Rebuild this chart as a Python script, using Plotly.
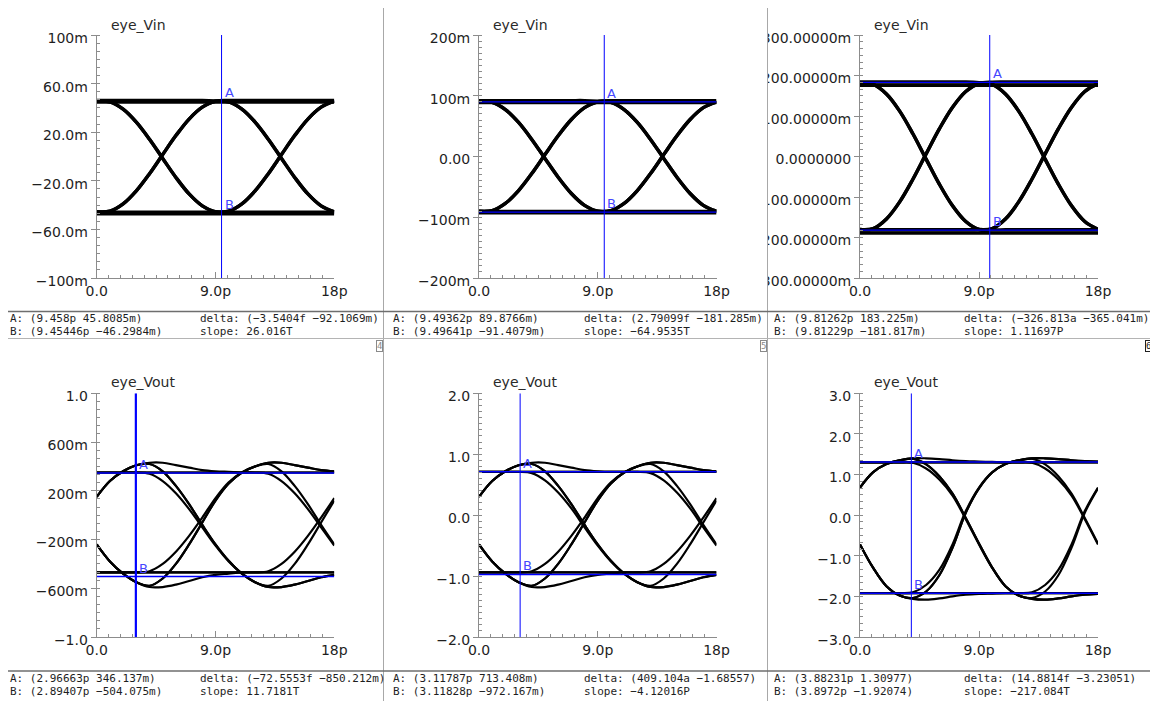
import plotly.graph_objects as go

W, H = 1158, 701
OFF = 8  # the page body keeps an 8 px margin around the figure

# ------------------------------------------------------------------ data
time_ps = [0, 1, 2, 3, 4, 5, 6, 7, 8, 9, 10, 11, 12, 13, 14, 15, 16, 17, 18]
x_tickvals = [0, 9, 18]
x_ticktext = ["0.0", "9.0p", "18p"]

# ---- panel 1 : eye_Vin (mV)
vin1_hhh = [44.8, 44.8, 44.8, 44.8, 44.8, 44.8, 44.8, 44.8, 44.8, 44.8, 44.8, 44.8, 44.8, 44.8, 44.8, 44.8, 44.8, 44.8, 44.8]
vin1_lll = [-47.2, -47.2, -47.2, -47.2, -47.2, -47.2, -47.2, -47.2, -47.2, -47.2, -47.2, -47.2, -47.2, -47.2, -47.2, -47.2, -47.2, -47.2, -47.2]
vin1_hlh = [45.5, 45.0, 39.0, 28.3, 14.2, -1.6, -17.2, -30.8, -40.6, -45.5, -45.0, -39.0, -28.3, -14.2, 1.6, 17.2, 30.8, 40.6, 45.5]
vin1_lhl = [-45.5, -45.0, -39.0, -28.3, -14.2, 1.6, 17.2, 30.8, 40.6, 45.5, 45.0, 39.0, 28.3, 14.2, -1.6, -17.2, -30.8, -40.6, -45.5]
vin1_hhl = [46.2, 46.2, 46.2, 46.2, 46.2, 46.2, 46.2, 46.2, 46.2, 45.8, 45.0, 39.0, 28.3, 14.2, -1.6, -17.2, -30.8, -40.6, -45.5]
vin1_llh = [-45.8, -45.8, -45.8, -45.8, -45.8, -45.8, -45.8, -45.8, -45.8, -45.6, -45.0, -39.0, -28.3, -14.2, 1.6, 17.2, 30.8, 40.6, 45.5]
vin1_hll = [45.5, 45.0, 39.0, 28.3, 14.2, -1.6, -17.2, -30.8, -40.6, -45.5, -45.9, -45.8, -45.8, -45.8, -45.8, -45.8, -45.8, -45.8, -45.8]
vin1_lhh = [-45.5, -45.0, -39.0, -28.3, -14.2, 1.6, 17.2, 30.8, 40.6, 45.5, 46.1, 46.2, 46.2, 46.2, 46.2, 46.2, 46.2, 46.2, 46.2]

# ---- panel 2 : eye_Vin (mV)
vin2_hhh = [89.0, 89.0, 89.0, 89.0, 89.0, 89.0, 89.0, 89.0, 89.0, 89.0, 89.0, 89.0, 89.0, 89.0, 89.0, 89.0, 89.0, 89.0, 89.0]
vin2_lll = [-92.5, -92.5, -92.5, -92.5, -92.5, -92.5, -92.5, -92.5, -92.5, -92.5, -92.5, -92.5, -92.5, -92.5, -92.5, -92.5, -92.5, -92.5, -92.5]
vin2_hlh = [90.1, 89.0, 77.2, 56.1, 28.1, -3.2, -34.1, -60.9, -80.4, -90.1, -89.0, -77.2, -56.1, -28.1, 3.2, 34.1, 60.9, 80.4, 90.1]
vin2_lhl = [-90.1, -89.0, -77.2, -56.1, -28.1, 3.2, 34.1, 60.9, 80.4, 90.1, 89.0, 77.2, 56.1, 28.1, -3.2, -34.1, -60.9, -80.4, -90.1]
vin2_hhl = [92.0, 92.0, 92.0, 92.0, 92.0, 92.0, 92.0, 92.0, 92.0, 91.0, 89.0, 77.2, 56.1, 28.1, -3.2, -34.1, -60.9, -80.4, -90.1]
vin2_llh = [-90.5, -90.5, -90.5, -90.5, -90.5, -90.5, -90.5, -90.5, -90.5, -90.5, -89.0, -77.2, -56.1, -28.1, 3.2, 34.1, 60.9, 80.4, 90.1]
vin2_hll = [90.1, 89.0, 77.2, 56.1, 28.1, -3.2, -34.1, -60.9, -80.4, -90.1, -90.6, -90.5, -90.5, -90.5, -90.5, -90.5, -90.5, -90.5, -90.5]
vin2_lhh = [-90.1, -89.0, -77.2, -56.1, -28.1, 3.2, 34.1, 60.9, 80.4, 90.1, 91.8, 92.0, 92.0, 92.0, 92.0, 92.0, 92.0, 92.0, 92.0]

# ---- panel 3 : eye_Vin (mV)
vin3_hhh = [176.0, 176.0, 176.0, 176.0, 176.0, 176.0, 176.0, 176.0, 176.0, 176.0, 176.0, 176.0, 176.0, 176.0, 176.0, 176.0, 176.0, 176.0, 176.0]
vin3_lll = [-189.0, -189.0, -189.0, -189.0, -189.0, -189.0, -189.0, -189.0, -189.0, -189.0, -189.0, -189.0, -189.0, -189.0, -189.0, -189.0, -189.0, -189.0, -189.0]
vin3_hlh = [180.2, 178.0, 154.3, 112.1, 56.2, -6.4, -68.3, -121.8, -160.7, -180.2, -178.0, -154.3, -112.1, -56.2, 6.4, 68.3, 121.8, 160.7, 180.2]
vin3_lhl = [-180.2, -178.0, -154.3, -112.1, -56.2, 6.4, 68.3, 121.8, 160.7, 180.2, 178.0, 154.3, 112.1, 56.2, -6.4, -68.3, -121.8, -160.7, -180.2]
vin3_hhl = [184.0, 184.0, 184.0, 184.0, 184.0, 184.0, 184.0, 184.0, 184.0, 182.5, 178.0, 154.3, 112.1, 56.2, -6.4, -68.3, -121.8, -160.7, -180.2]
vin3_llh = [-181.0, -181.0, -181.0, -181.0, -181.0, -181.0, -181.0, -181.0, -181.0, -180.5, -178.0, -154.3, -112.1, -56.2, 6.4, 68.3, 121.8, 160.7, 180.2]
vin3_hll = [180.2, 178.0, 154.3, 112.1, 56.2, -6.4, -68.3, -121.8, -160.7, -180.2, -181.2, -181.0, -181.0, -181.0, -181.0, -181.0, -181.0, -181.0, -181.0]
vin3_lhh = [-180.2, -178.0, -154.3, -112.1, -56.2, 6.4, 68.3, 121.8, 160.7, 180.2, 183.6, 184.0, 184.0, 184.0, 184.0, 184.0, 184.0, 184.0, 184.0]

# ---- panel 4 : eye_Vout (V)
vout1_hhhh = [0.35, 0.35, 0.35, 0.35, 0.35, 0.35, 0.35, 0.35, 0.35, 0.35, 0.35, 0.35, 0.35, 0.35, 0.35, 0.35, 0.35, 0.35, 0.35]
vout1_llll = [-0.47, -0.47, -0.47, -0.47, -0.47, -0.47, -0.47, -0.47, -0.47, -0.47, -0.47, -0.47, -0.47, -0.47, -0.47, -0.47, -0.47, -0.47, -0.47]
vout1_lhhh = [0.15, 0.28, 0.36, 0.41, 0.43, 0.43, 0.41, 0.39, 0.37, 0.36, 0.355, 0.35, 0.35, 0.35, 0.35, 0.35, 0.35, 0.35, 0.35]
vout1_hlll = [-0.24, -0.38, -0.48, -0.55, -0.59, -0.59, -0.57, -0.54, -0.51, -0.49, -0.48, -0.47, -0.47, -0.47, -0.47, -0.47, -0.47, -0.47, -0.47]
vout1_hhll = [0.35, 0.35, 0.35, 0.35, 0.34, 0.28, 0.18, 0.05, -0.10, -0.25, -0.38, -0.48, -0.55, -0.59, -0.59, -0.57, -0.54, -0.51, -0.49]
vout1_llhh = [-0.47, -0.47, -0.47, -0.47, -0.46, -0.40, -0.30, -0.17, -0.02, 0.14, 0.27, 0.35, 0.40, 0.43, 0.43, 0.41, 0.39, 0.37, 0.36]
vout1_lhll = [0.15, 0.28, 0.36, 0.41, 0.42, 0.36, 0.24, 0.09, -0.08, -0.24, -0.375, -0.48, -0.55, -0.59, -0.59, -0.57, -0.54, -0.51, -0.49]
vout1_hlhh = [-0.24, -0.38, -0.48, -0.55, -0.58, -0.52, -0.40, -0.24, -0.06, 0.12, 0.26, 0.35, 0.40, 0.43, 0.43, 0.41, 0.39, 0.37, 0.36]
vout1_hhhl = [0.35, 0.35, 0.35, 0.35, 0.35, 0.35, 0.35, 0.35, 0.35, 0.35, 0.35, 0.35, 0.35, 0.34, 0.28, 0.18, 0.05, -0.10, -0.25]
vout1_lllh = [-0.47, -0.47, -0.47, -0.47, -0.47, -0.47, -0.47, -0.47, -0.47, -0.47, -0.47, -0.47, -0.47, -0.46, -0.40, -0.30, -0.17, -0.02, 0.14]
vout1_hlhl = [-0.24, -0.38, -0.48, -0.55, -0.58, -0.52, -0.40, -0.24, -0.06, 0.12, 0.26, 0.35, 0.40, 0.42, 0.36, 0.24, 0.09, -0.08, -0.24]
vout1_lhlh = [0.15, 0.28, 0.36, 0.41, 0.42, 0.36, 0.24, 0.09, -0.08, -0.24, -0.375, -0.48, -0.55, -0.58, -0.52, -0.40, -0.24, -0.06, 0.12]

# ---- panel 5 : eye_Vout (V)
vout2_hhhh = [0.71, 0.71, 0.71, 0.71, 0.71, 0.71, 0.71, 0.71, 0.71, 0.71, 0.71, 0.71, 0.71, 0.71, 0.71, 0.71, 0.71, 0.71, 0.71]
vout2_llll = [-0.94, -0.94, -0.94, -0.94, -0.94, -0.94, -0.94, -0.94, -0.94, -0.94, -0.94, -0.94, -0.94, -0.94, -0.94, -0.94, -0.94, -0.94, -0.94]
vout2_lhhh = [0.30, 0.56, 0.72, 0.82, 0.86, 0.86, 0.82, 0.78, 0.74, 0.72, 0.71, 0.71, 0.71, 0.71, 0.71, 0.71, 0.71, 0.71, 0.71]
vout2_hlll = [-0.48, -0.76, -0.96, -1.10, -1.18, -1.18, -1.14, -1.08, -1.02, -0.98, -0.96, -0.94, -0.94, -0.94, -0.94, -0.94, -0.94, -0.94, -0.94]
vout2_hhll = [0.71, 0.71, 0.71, 0.71, 0.69, 0.57, 0.37, 0.11, -0.20, -0.50, -0.76, -0.96, -1.10, -1.18, -1.18, -1.14, -1.08, -1.02, -0.98]
vout2_llhh = [-0.94, -0.94, -0.94, -0.94, -0.92, -0.80, -0.60, -0.34, -0.04, 0.28, 0.54, 0.70, 0.80, 0.86, 0.86, 0.82, 0.78, 0.74, 0.72]
vout2_lhll = [0.30, 0.56, 0.72, 0.82, 0.84, 0.72, 0.48, 0.18, -0.16, -0.48, -0.75, -0.96, -1.10, -1.18, -1.18, -1.14, -1.08, -1.02, -0.98]
vout2_hlhh = [-0.48, -0.76, -0.96, -1.10, -1.16, -1.04, -0.80, -0.48, -0.12, 0.24, 0.52, 0.70, 0.80, 0.86, 0.86, 0.82, 0.78, 0.74, 0.72]
vout2_hhhl = [0.71, 0.71, 0.71, 0.71, 0.71, 0.71, 0.71, 0.71, 0.71, 0.71, 0.71, 0.71, 0.71, 0.69, 0.57, 0.37, 0.11, -0.20, -0.50]
vout2_lllh = [-0.94, -0.94, -0.94, -0.94, -0.94, -0.94, -0.94, -0.94, -0.94, -0.94, -0.94, -0.94, -0.94, -0.92, -0.80, -0.60, -0.34, -0.04, 0.28]
vout2_hlhl = [-0.48, -0.76, -0.96, -1.10, -1.16, -1.04, -0.80, -0.48, -0.12, 0.24, 0.52, 0.70, 0.80, 0.84, 0.72, 0.48, 0.18, -0.16, -0.48]
vout2_lhlh = [0.30, 0.56, 0.72, 0.82, 0.84, 0.72, 0.48, 0.18, -0.16, -0.48, -0.75, -0.96, -1.10, -1.16, -1.04, -0.80, -0.48, -0.12, 0.24]

# ---- panel 6 : eye_Vout (V)
vout3_hhhh = [1.30, 1.30, 1.30, 1.30, 1.30, 1.30, 1.30, 1.30, 1.30, 1.30, 1.30, 1.30, 1.30, 1.30, 1.30, 1.30, 1.30, 1.30, 1.30]
vout3_llll = [-1.92, -1.92, -1.92, -1.92, -1.92, -1.92, -1.92, -1.92, -1.92, -1.92, -1.92, -1.92, -1.92, -1.92, -1.92, -1.92, -1.92, -1.92, -1.92]
vout3_lhhh = [0.68, 1.06, 1.26, 1.35, 1.40, 1.40, 1.38, 1.35, 1.33, 1.32, 1.31, 1.30, 1.30, 1.30, 1.30, 1.30, 1.30, 1.30, 1.30]
vout3_hlll = [-0.72, -1.30, -1.75, -1.98, -2.06, -2.08, -2.05, -2.00, -1.96, -1.94, -1.93, -1.92, -1.92, -1.92, -1.92, -1.92, -1.92, -1.92, -1.92]
vout3_hhll = [1.30, 1.30, 1.30, 1.30, 1.29, 1.15, 0.88, 0.48, -0.10, -0.72, -1.30, -1.75, -1.98, -2.06, -2.08, -2.05, -2.00, -1.96, -1.94]
vout3_llhh = [-1.92, -1.92, -1.92, -1.92, -1.90, -1.72, -1.35, -0.72, 0.10, 0.68, 1.06, 1.26, 1.35, 1.40, 1.40, 1.38, 1.35, 1.33, 1.32]
vout3_lhll = [0.68, 1.06, 1.26, 1.35, 1.39, 1.25, 0.96, 0.53, -0.07, -0.70, -1.29, -1.75, -1.98, -2.06, -2.08, -2.05, -2.00, -1.96, -1.94]
vout3_hlhh = [-0.72, -1.30, -1.75, -1.98, -2.04, -1.88, -1.48, -0.80, 0.06, 0.66, 1.05, 1.26, 1.35, 1.40, 1.40, 1.38, 1.35, 1.33, 1.32]
vout3_hhhl = [1.30, 1.30, 1.30, 1.30, 1.30, 1.30, 1.30, 1.30, 1.30, 1.30, 1.30, 1.30, 1.30, 1.29, 1.15, 0.88, 0.48, -0.10, -0.72]
vout3_lllh = [-1.92, -1.92, -1.92, -1.92, -1.92, -1.92, -1.92, -1.92, -1.92, -1.92, -1.92, -1.92, -1.92, -1.90, -1.72, -1.35, -0.72, 0.10, 0.68]
vout3_hlhl = [-0.72, -1.30, -1.75, -1.98, -2.04, -1.88, -1.48, -0.80, 0.06, 0.66, 1.05, 1.26, 1.35, 1.39, 1.25, 0.96, 0.53, -0.07, -0.70]
vout3_lhlh = [0.68, 1.06, 1.26, 1.35, 1.39, 1.25, 0.96, 0.53, -0.07, -0.70, -1.29, -1.75, -1.98, -2.04, -1.88, -1.48, -0.80, 0.06, 0.66]

# ---- y tick labels
vin1_ytickvals = [100, 60, 20, -20, -60, -100]
vin1_yticktext = ["100m", "60.0m", "20.0m", "\u221220.0m", "\u221260.0m", "\u2212100m"]
vin2_ytickvals = [200, 100, 0, -100, -200]
vin2_yticktext = ["200m", "100m", "0.00", "\u2212100m", "\u2212200m"]
vin3_ytickvals = [300, 200, 100, 0, -100, -200, -300]
vin3_yticktext = ["300.00000m", "200.00000m", "100.00000m", "0.0000000",
                  "\u2212100.00000m", "\u2212200.00000m", "\u2212300.00000m"]
vout1_ytickvals = [1.0, 0.6, 0.2, -0.2, -0.6, -1.0]
vout1_yticktext = ["1.0", "600m", "200m", "\u2212200m", "\u2212600m", "\u22121.0"]
vout2_ytickvals = [2, 1, 0, -1, -2]
vout2_yticktext = ["2.0", "1.0", "0.0", "\u22121.0", "\u22122.0"]
vout3_ytickvals = [3, 2, 1, 0, -1, -2, -3]
vout3_yticktext = ["3.0", "2.0", "1.0", "0.0", "\u22121.0", "\u22122.0", "\u22123.0"]

# ---- markers: [cursor time (ps), A value, B value]
vin1_marker = [9.458, 45.8085, -46.2984]
vin2_marker = [9.49362, 89.8766, -91.4079]
vin3_marker = [9.81262, 183.225, -181.817]
vout1_marker = [2.96663, 0.346137, -0.504075]
vout2_marker = [3.11787, 0.713408, -0.972167]
vout3_marker = [3.88231, 1.30977, -1.92074]

# ---- marker read-outs
vin1_info = ["A: (9.458p 45.8085m)", "B: (9.45446p \u221246.2984m)",
             "delta: (\u22123.5404f \u221292.1069m)", "slope: 26.016T"]
vin2_info = ["A: (9.49362p 89.8766m)", "B: (9.49641p \u221291.4079m)",
             "delta: (2.79099f \u2212181.285m)", "slope: \u221264.9535T"]
vin3_info = ["A: (9.81262p 183.225m)", "B: (9.81229p \u2212181.817m)",
             "delta: (\u2212326.813a \u2212365.041m)", "slope: 1.11697P"]
vout1_info = ["A: (2.96663p 346.137m)", "B: (2.89407p \u2212504.075m)",
              "delta: (\u221272.5553f \u2212850.212m)", "slope: 11.7181T"]
vout2_info = ["A: (3.11787p 713.408m)", "B: (3.11828p \u2212972.167m)",
              "delta: (409.104a \u22121.68557)", "slope: \u22124.12016P"]
vout3_info = ["A: (3.88231p 1.30977)", "B: (3.8972p \u22121.92074)",
              "delta: (14.8814f \u22123.23051)", "slope: \u2212217.084T"]

# ------------------------------------------------------------------ style / layout
BLACK = "#000000"
BLUE = "#0000ff"
LBLUE = "#4646ff"
AXIS = "#8c8c8c"
TXT = "#1e1e1e"

cols_px = [(96.7, 334.3), (479.0, 716.5), (860.0, 1098.0)]
rows_px = [(35.0, 278.0), (393.3, 637.0)]
title_y_px = [25, 382]
info_y_px = [(318.5, 331.5), (678.0, 691.0)]
info_x_px = [(9, 199), (391.5, 583), (773, 963)]

panels = [
    dict(name="eye_Vin", yr=[-100, 100], tv=vin1_ytickvals, tt=vin1_yticktext, mdt=20 / 3,
         marker=vin1_marker, info=vin1_info, below=True, lw=3.4, vw=1.0, hw=1.2,
         traces=[vin1_hhh, vin1_lll, vin1_hhl, vin1_llh, vin1_hll, vin1_lhh, vin1_hlh, vin1_lhl]),
    dict(name="eye_Vin", yr=[-200, 200], tv=vin2_ytickvals, tt=vin2_yticktext, mdt=10,
         marker=vin2_marker, info=vin2_info, below=False, lw=3.4, vw=1.0, hw=1.3,
         traces=[vin2_hhh, vin2_lll, vin2_hhl, vin2_llh, vin2_hll, vin2_lhh, vin2_hlh, vin2_lhl]),
    dict(name="eye_Vin", yr=[-300, 300], tv=vin3_ytickvals, tt=vin3_yticktext, mdt=100 / 6,
         marker=vin3_marker, info=vin3_info, below=False, lw=3.4, vw=1.0, hw=1.3,
         traces=[vin3_hhh, vin3_lll, vin3_hhl, vin3_llh, vin3_hll, vin3_lhh, vin3_hlh, vin3_lhl]),
    dict(name="eye_Vout", yr=[-1, 1], tv=vout1_ytickvals, tt=vout1_yticktext, mdt=0.4 / 6,
         marker=vout1_marker, info=vout1_info, below=False, lw=2.2, vw=2.2, hw=1.5,
         traces=[vout1_hhhh, vout1_llll, vout1_lhhh, vout1_hlll, vout1_hhll, vout1_llhh,
                 vout1_lhll, vout1_hlhh, vout1_hhhl, vout1_lllh, vout1_hlhl, vout1_lhlh]),
    dict(name="eye_Vout", yr=[-2, 2], tv=vout2_ytickvals, tt=vout2_yticktext, mdt=0.1,
         marker=vout2_marker, info=vout2_info, below=False, lw=2.2, vw=1.0, hw=1.5,
         traces=[vout2_hhhh, vout2_llll, vout2_lhhh, vout2_hlll, vout2_hhll, vout2_llhh,
                 vout2_lhll, vout2_hlhh, vout2_hhhl, vout2_lllh, vout2_hlhl, vout2_lhlh]),
    dict(name="eye_Vout", yr=[-3, 3], tv=vout3_ytickvals, tt=vout3_yticktext, mdt=1 / 6,
         marker=vout3_marker, info=vout3_info, below=False, lw=2.2, vw=1.0, hw=1.5,
         traces=[vout3_hhhh, vout3_llll, vout3_lhhh, vout3_hlll, vout3_hhll, vout3_llhh,
                 vout3_lhll, vout3_hlhh, vout3_hhhl, vout3_lllh, vout3_hlhl, vout3_lhlh]),
]

for p in panels:
    for tr in p["traces"]:
        assert len(tr) == len(time_ps), len(tr)

FW, FH = W - OFF, H - OFF

fig = go.Figure()
layout = dict(
    width=FW, height=FH, autosize=False,
    margin=dict(l=0, r=0, t=0, b=0, pad=0, autoexpand=False),
    paper_bgcolor="white", plot_bgcolor="white",
    showlegend=False, hovermode=False,
)
annotations = []
shapes = []

tick_font = dict(family="DejaVu Sans", size=14, color=TXT)
info_font = dict(family="DejaVu Sans Mono", size=11, color=TXT)


def px_x(x):
    # window pixel -> paper fraction (figure sits OFF px from the window corner)
    return (x - OFF) / FW


def px_y(y):
    return 1 - (y - OFF) / FH


for k, p in enumerate(panels):
    r, c = divmod(k, 3)
    i = k + 1
    sfx = "" if i == 1 else str(i)
    xref, yref = "x" + sfx, "y" + sfx
    x0, x1 = cols_px[c]
    yt, yb = rows_px[r]
    layout["xaxis" + sfx] = dict(
        domain=[px_x(x0), px_x(x1)], range=[0, 18], anchor=yref, automargin=False,
        showgrid=False, zeroline=False, showline=True, linecolor=AXIS, linewidth=1,
        tickmode="array", tickvals=x_tickvals, ticktext=x_ticktext,
        ticks="inside", ticklen=6, tickcolor=AXIS, tickwidth=1, tickfont=tick_font,
        minor=dict(ticks="inside", ticklen=3, tickcolor=AXIS, tick0=0, dtick=0.9),
        fixedrange=True,
    )
    layout["yaxis" + sfx] = dict(
        domain=[px_y(yb), px_y(yt)], range=p["yr"], anchor=xref, automargin=False,
        showgrid=False, zeroline=False, showline=True, linecolor=AXIS, linewidth=1,
        tickmode="array", tickvals=p["tv"], ticktext=p["tt"],
        ticks="outside", ticklen=5, tickcolor=AXIS, tickwidth=1, tickfont=tick_font,
        ticklabelshift=3,
        minor=dict(ticks="inside", ticklen=3, tickcolor=AXIS, tick0=p["yr"][0], dtick=p["mdt"]),
        fixedrange=True,
    )

    t_cur, a_val, b_val = p["marker"]

    def add_hlines():
        for v in (a_val, b_val):
            fig.add_trace(go.Scatter(x=[0, 18], y=[v, v], mode="lines", xaxis=xref, yaxis=yref,
                                     line=dict(color=BLUE, width=p["hw"]), hoverinfo="skip"))

    if p["below"]:
        add_hlines()
    for tr in p["traces"]:
        fig.add_trace(go.Scatter(x=time_ps, y=tr, mode="lines", xaxis=xref, yaxis=yref,
                                 line=dict(color=BLACK, width=p["lw"], shape="spline", smoothing=1.0),
                                 hoverinfo="skip"))
    if not p["below"]:
        add_hlines()
    fig.add_trace(go.Scatter(x=[t_cur, t_cur], y=p["yr"], mode="lines", xaxis=xref, yaxis=yref,
                             line=dict(color=BLUE, width=p["vw"]), hoverinfo="skip"))

    # A / B marker letters
    for lab, v in (("A", a_val), ("B", b_val)):
        annotations.append(dict(x=t_cur, y=v, xref=xref, yref=yref, text=lab, showarrow=False,
                                xanchor="left", yanchor="bottom", xshift=1, yshift=-1,
                                font=dict(family="DejaVu Sans", size=13, color=LBLUE)))

    # trace title
    annotations.append(dict(x=px_x(x0 + 12), y=px_y(title_y_px[r]), xref="paper", yref="paper",
                            text=p["name"], showarrow=False, xanchor="left", yanchor="middle",
                            font=dict(family="DejaVu Sans", size=14, color="#2a2a2a")))

    # marker read-outs
    ax_, dx_ = info_x_px[c]
    ya_, yb_ = info_y_px[r]
    for txt, xx, yy in ((p["info"][0], ax_, ya_), (p["info"][1], ax_, yb_),
                        (p["info"][2], dx_, ya_), (p["info"][3], dx_, yb_)):
        annotations.append(dict(x=px_x(xx), y=px_y(yy), xref="paper", yref="paper", text=txt,
                                showarrow=False, xanchor="left", yanchor="middle", font=info_font,
                                borderpad=0))

# mask for overflowing tick labels of panel 3
shapes.append(dict(type="rect", xref="paper", yref="paper", layer="above",
                   x0=px_x(736), x1=px_x(767), y0=px_y(300), y1=1,
                   fillcolor="white", line=dict(width=0)))
# sub-window frame lines
for xx in (383.5, 767.5):
    shapes.append(dict(type="line", xref="paper", yref="paper", layer="above",
                       x0=px_x(xx), x1=px_x(xx), y0=0, y1=1, line=dict(color="#a8a8a8", width=1)))
shapes.append(dict(type="line", xref="paper", yref="paper", layer="above",
                   x0=0, x1=1, y0=px_y(311.5), y1=px_y(311.5), line=dict(color="#6e6e6e", width=1.5)))
shapes.append(dict(type="line", xref="paper", yref="paper", layer="above",
                   x0=0, x1=1, y0=px_y(338.5), y1=px_y(338.5), line=dict(color="#b4b4b4", width=1)))
shapes.append(dict(type="line", xref="paper", yref="paper", layer="above",
                   x0=0, x1=1, y0=px_y(671.0), y1=px_y(671.0), line=dict(color="#6e6e6e", width=1.5)))

# sub-window numbers
for num, xx, col in (("4", 379.5, "#8a8a8a"), ("5", 763, "#8a8a8a"), ("6", 1148, "#202020")):
    annotations.append(dict(x=px_x(xx), y=px_y(346), xref="paper", yref="paper", text=num,
                            showarrow=False, xanchor="center", yanchor="middle",
                            font=dict(family="DejaVu Sans Mono", size=9, color=col),
                            bordercolor=col, borderwidth=1, borderpad=0, bgcolor="white"))

layout["annotations"] = annotations
layout["shapes"] = shapes
fig.update_layout(**layout)

fig.write_html("out.html")
